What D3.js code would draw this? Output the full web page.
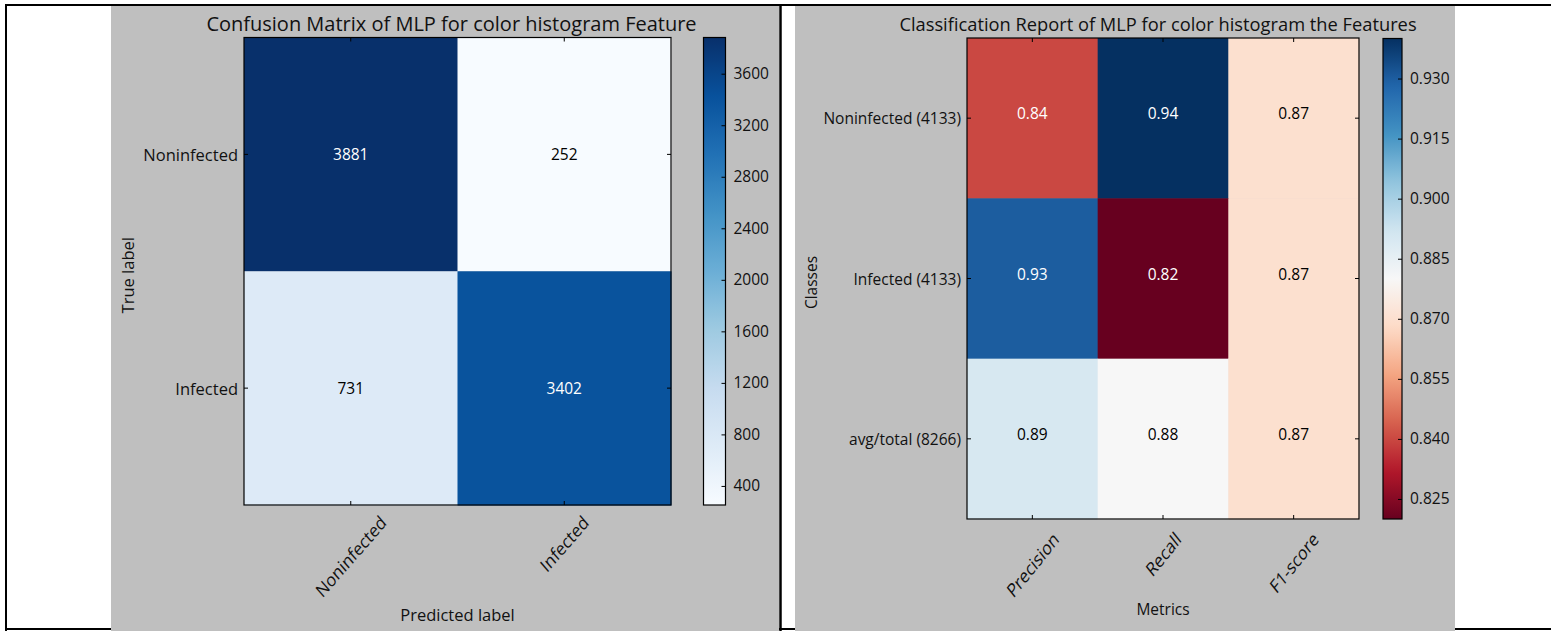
<!DOCTYPE html>
<html>
<head>
<meta charset="utf-8">
<script src="https://cdn.jsdelivr.net/npm/d3@7"></script>
<style>
  html, body { margin: 0; padding: 0; background: #ffffff; }
  svg { display: block; }
  text { font-family: "Open Sans", "Noto Sans", sans-serif; fill: #111; }
</style>
</head>
<body>
<svg id="fig" width="1551" height="631"></svg>
<script>
// ---- Confusion matrix data ----
const cmClasses = ["Noninfected", "Infected"];
const cmRow0 = [3881, 252];
const cmRow1 = [731, 3402];
const cmTicks = [400, 800, 1200, 1600, 2000, 2400, 2800, 3200, 3600];

// ---- Classification report data ----
const reportClasses = ["Noninfected (4133)", "Infected (4133)", "avg/total (8266)"];
const reportMetrics = ["Precision", "Recall", "F1-score"];
const reportRow0 = [0.84, 0.94, 0.87];
const reportRow1 = [0.93, 0.82, 0.87];
const reportRow2 = [0.89, 0.88, 0.87];
const reportTicks = [0.825, 0.840, 0.855, 0.870, 0.885, 0.900, 0.915, 0.930];

// ColorBrewer stops used by the Blues and RdBu colormaps
const bluesStops = ["#f7fbff","#deebf7","#c6dbef","#9ecae1","#6baed6","#4292c6","#2171b5","#08519c","#08306b"];
const rdbuStops = ["#67001f","#b2182b","#d6604d","#f4a582","#fddbc7","#f7f7f7","#d1e5f0","#92c5de","#4393c3","#2166ac","#053061"];

function colormap(stops, lo, hi) {
  const t = d3.scaleLinear().domain([lo, hi]).range([0, 1]).clamp(true);
  const ramp = d3.scaleLinear()
    .domain(stops.map((_, i) => i / (stops.length - 1)))
    .range(stops)
    .interpolate(d3.interpolateRgb);
  return v => ramp(t(v));
}

const svg = d3.select("#fig");
const defs = svg.append("defs");

// grey figure backgrounds inside the table cells
const panelBg = "#bfbfbf";
svg.append("rect").attr("x", 111).attr("y", 6).attr("width", 668).attr("height", 625).attr("fill", panelBg);
svg.append("rect").attr("x", 795).attr("y", 6).attr("width", 660).attr("height", 625).attr("fill", panelBg);

// table frame
const frame = svg.append("g");
frame.append("line").attr("x1", 5).attr("x2", 1551).attr("y1", 5).attr("y2", 5).attr("stroke", "#000").attr("stroke-width", 2);
frame.append("line").attr("x1", 6).attr("x2", 6).attr("y1", 4).attr("y2", 631).attr("stroke", "#000").attr("stroke-width", 2);
frame.append("line").attr("x1", 780.5).attr("x2", 780.5).attr("y1", 4).attr("y2", 631).attr("stroke", "#000").attr("stroke-width", 2.5);
frame.append("line").attr("x1", 5).attr("x2", 111).attr("y1", 629).attr("y2", 629).attr("stroke", "#000").attr("stroke-width", 2);
frame.append("line").attr("x1", 779).attr("x2", 795).attr("y1", 629).attr("y2", 629).attr("stroke", "#000").attr("stroke-width", 2);
frame.append("line").attr("x1", 1455).attr("x2", 1551).attr("y1", 629).attr("y2", 629).attr("stroke", "#000").attr("stroke-width", 2);

// 45-degree tick label whose bounding box is centred on x with its top at yTop
function rotatedTickLabel(g, x, yTop, label, size, stretch) {
  const t = g.append("text")
    .attr("text-anchor", "middle")
    .attr("dominant-baseline", "central")
    .style("font-size", size + "px")
    .text(label);
  const w = t.node().getComputedTextLength();
  const h = size * 0.75;
  const bh = (w + h) * Math.SQRT1_2 * stretch;
  t.attr("transform", `translate(${x},${yTop + bh / 2}) scale(1,${stretch}) rotate(-45)`);
}

function heatmap(opt) {
  const g = svg.append("g");
  const x = d3.scaleBand().domain(d3.range(opt.cols.length)).range([opt.left, opt.right]);
  const y = d3.scaleBand().domain(d3.range(opt.rows.length)).range([opt.top, opt.bottom]);
  const color = colormap(opt.stops, opt.min, opt.max);

  const cells = [];
  opt.values.forEach((row, i) => row.forEach((v, j) => cells.push({ i, j, v })));

  g.selectAll("rect.cell").data(cells).join("rect")
    .attr("class", "cell")
    .attr("x", d => x(d.j)).attr("y", d => y(d.i))
    .attr("width", x.bandwidth() + 0.5).attr("height", y.bandwidth() + 0.5)
    .attr("fill", d => color(d.v));

  g.selectAll("text.val").data(cells).join("text")
    .attr("class", "val")
    .attr("x", d => x(d.j) + x.bandwidth() / 2)
    .attr("y", d => y(d.i) + y.bandwidth() / 2 + opt.valueShift)
    .attr("text-anchor", "middle")
    .attr("dominant-baseline", "central")
    .style("font-size", opt.valueSize + "px")
    .style("fill", d => opt.textColor(d.v, color(d.v)))
    .text(d => opt.fmt(d.v));

  // frame
  g.append("rect").attr("x", opt.left).attr("y", opt.top)
    .attr("width", opt.right - opt.left).attr("height", opt.bottom - opt.top)
    .attr("fill", "none").attr("stroke", "#000").attr("stroke-width", 1.2);

  // inward ticks on all sides
  const tl = 4;
  x.domain().forEach(j => {
    const cx = x(j) + x.bandwidth() / 2;
    g.append("line").attr("x1", cx).attr("x2", cx).attr("y1", opt.bottom).attr("y2", opt.bottom - tl).attr("stroke", "#000");
    g.append("line").attr("x1", cx).attr("x2", cx).attr("y1", opt.top).attr("y2", opt.top + tl).attr("stroke", "#000");
    rotatedTickLabel(g, cx, opt.bottom + opt.xLabelGap, opt.cols[j], opt.xTickSize, opt.stretch);
  });
  y.domain().forEach(i => {
    const cy = y(i) + y.bandwidth() / 2;
    g.append("line").attr("x1", opt.left).attr("x2", opt.left + tl).attr("y1", cy).attr("y2", cy).attr("stroke", "#000");
    g.append("line").attr("x1", opt.right).attr("x2", opt.right - tl).attr("y1", cy).attr("y2", cy).attr("stroke", "#000");
    g.append("text").attr("x", opt.left - 6).attr("y", cy)
      .attr("text-anchor", "end").attr("dominant-baseline", "central")
      .style("font-size", opt.tickSize + "px").text(opt.rows[i]);
  });

  // title and axis labels
  g.append("text").attr("x", (opt.left + opt.right) / 2 + opt.titleShift).attr("y", opt.titleY)
    .attr("text-anchor", "middle").style("font-size", opt.titleSize + "px").text(opt.title);
  g.append("text").attr("x", (opt.left + opt.right) / 2).attr("y", opt.xTitleY)
    .attr("text-anchor", "middle").attr("dominant-baseline", "central")
    .style("font-size", opt.labelSize + "px").text(opt.xTitle);
  g.append("text")
    .attr("transform", `translate(${opt.yTitleX},${(opt.top + opt.bottom) / 2 + 4}) rotate(-90)`)
    .attr("text-anchor", "middle").attr("dominant-baseline", "central")
    .style("font-size", opt.labelSize + "px").text(opt.yTitle);

  // colorbar
  const cb = opt.cb;
  const cbScale = d3.scaleLinear().domain([opt.min, opt.max]).range([cb.bottom, cb.top]);
  const gid = "grad-" + opt.id;
  const grad = defs.append("linearGradient").attr("id", gid)
    .attr("x1", 0).attr("x2", 0).attr("y1", 1).attr("y2", 0);
  d3.range(0, 1.0001, 1 / 64).forEach(t => {
    grad.append("stop").attr("offset", t)
      .attr("stop-color", color(opt.min + t * (opt.max - opt.min)));
  });
  g.append("rect").attr("x", cb.left).attr("y", cb.top)
    .attr("width", cb.right - cb.left).attr("height", cb.bottom - cb.top)
    .attr("fill", `url(#${gid})`).attr("stroke", "#000").attr("stroke-width", 1.2);
  const axis = d3.axisRight(cbScale).tickValues(opt.ticks).tickFormat(opt.cbFmt)
    .tickSizeInner(-4).tickSizeOuter(0).tickPadding(8);
  const ag = g.append("g").attr("transform", `translate(${cb.right},0)`).call(axis);
  ag.select(".domain").remove();
  ag.selectAll(".tick line").attr("stroke", "#000");
  ag.selectAll(".tick text").style("font-size", opt.cbSize + "px")
    .style("font-family", "'Open Sans', 'Noto Sans', sans-serif").attr("fill", "#111");
}

heatmap({
  id: "cm",
  rows: cmClasses, cols: cmClasses,
  values: [cmRow0, cmRow1],
  stops: bluesStops,
  min: d3.min([...cmRow0, ...cmRow1]), max: d3.max([...cmRow0, ...cmRow1]),
  left: 244, right: 671, top: 37.5, bottom: 505,
  cb: { left: 703.5, right: 725.5, top: 37.5, bottom: 505 },
  ticks: cmTicks, cbFmt: d3.format("d"),
  fmt: d3.format("d"),
  textColor: v => v > d3.max([...cmRow0, ...cmRow1]) / 2 ? "#ffffff" : "#000000",
  title: "Confusion Matrix of MLP for color histogram Feature",
  xTitle: "Predicted label", yTitle: "True label",
  titleY: 30.5, titleShift: -6, xTitleY: 614, yTitleX: 127,
  titleSize: 20, tickSize: 16.5, xTickSize: 16, labelSize: 16.5, cbSize: 15.5,
  valueSize: 15.5, valueShift: 0, xLabelGap: 9, stretch: 1.15
});

heatmap({
  id: "report",
  rows: reportClasses, cols: reportMetrics,
  values: [reportRow0, reportRow1, reportRow2],
  stops: rdbuStops,
  min: d3.min([...reportRow0, ...reportRow1, ...reportRow2]),
  max: d3.max([...reportRow0, ...reportRow1, ...reportRow2]),
  left: 967, right: 1359, top: 38, bottom: 519,
  cb: { left: 1383, right: 1402, top: 38.5, bottom: 519 },
  ticks: reportTicks, cbFmt: d3.format(".3f"),
  fmt: d3.format(".2f"),
  textColor: (v, c) => {
    const rgb = d3.rgb(c);
    const lum = (0.299 * rgb.r + 0.587 * rgb.g + 0.114 * rgb.b) / 255;
    return lum < 0.5 ? "#ffffff" : "#000000";
  },
  title: "Classification Report of MLP for color histogram the Features",
  xTitle: "Metrics", yTitle: "Classes",
  titleY: 31, titleShift: -5, xTitleY: 609, yTitleX: 811,
  titleSize: 18.3, tickSize: 15.5, xTickSize: 15.5, labelSize: 15.5, cbSize: 15.5,
  valueSize: 15.5, valueShift: -5, xLabelGap: 11, stretch: 1.25
});
</script>
</body>
</html>
